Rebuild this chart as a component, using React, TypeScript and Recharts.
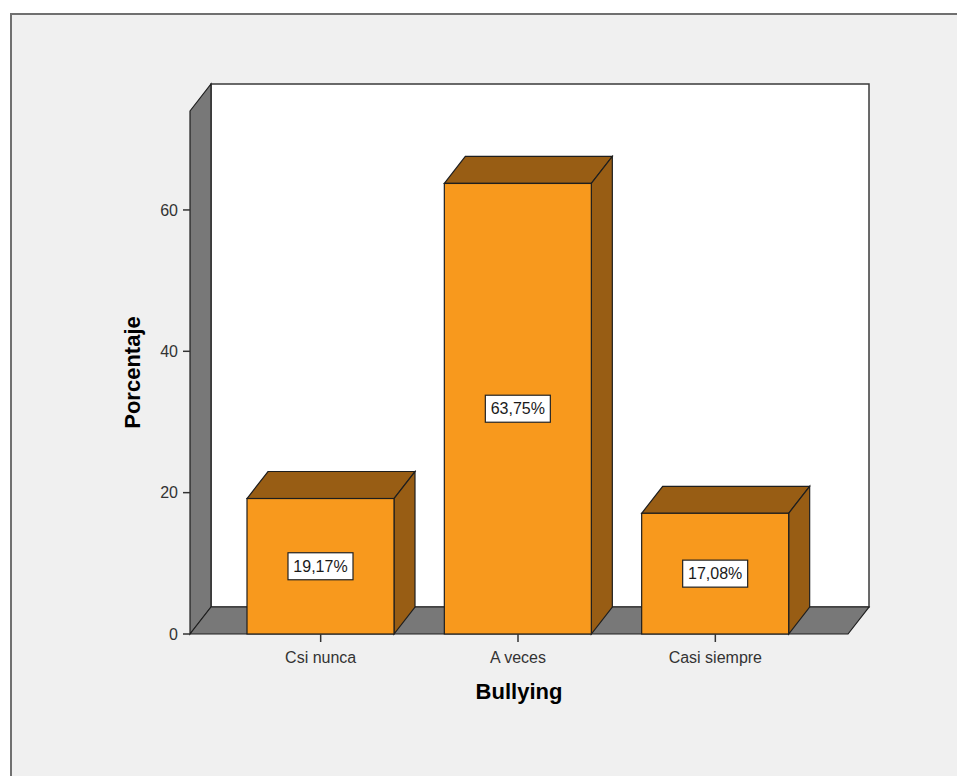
import React from 'react';
import { BarChart, Bar, XAxis, YAxis, ReferenceArea, LabelList } from 'recharts';

const categories = ['Csi nunca', 'A veces', 'Casi siempre'];
const percentages = [19.17, 63.75, 17.08];
const yTicks = [0, 20, 40, 60];
const yMax = 74;

const data = categories.map((name, i) => ({ name, value: percentages[i] }));

const DX = 21;
const DY = 27;
const FONT = '"Liberation Sans", Arial, Helvetica, sans-serif';
const FRONT = '#F8991D';
const DARK = '#985D14';
const WALL = '#787878';
const EDGE = '#1e1e1e';

const Walls = (props: any) => {
  const { x, y, width: w, height: h } = props;
  const b = y + h;
  return (
    <g>
      <rect x={x + DX} y={y - DY} width={w} height={h} fill="#ffffff" stroke="#3a3a3a" strokeWidth={1.5} />
      <polygon
        points={`${x},${y} ${x + DX},${y - DY} ${x + DX},${b - DY} ${x},${b}`}
        fill={WALL}
        stroke={EDGE}
        strokeWidth={1.2}
      />
      <polygon
        points={`${x},${b} ${x + DX},${b - DY} ${x + w + DX},${b - DY} ${x + w},${b}`}
        fill={WALL}
        stroke={EDGE}
        strokeWidth={1.2}
      />
    </g>
  );
};

const Box3D = (props: any) => {
  const { x, y, width: w, height: h } = props;
  if (w == null || h == null) return null;
  return (
    <g>
      <polygon
        points={`${x},${y} ${x + DX},${y - DY} ${x + w + DX},${y - DY} ${x + w},${y}`}
        fill={DARK}
        stroke={EDGE}
        strokeWidth={1.2}
      />
      <polygon
        points={`${x + w},${y} ${x + w + DX},${y - DY} ${x + w + DX},${y + h - DY} ${x + w},${y + h}`}
        fill={DARK}
        stroke={EDGE}
        strokeWidth={1.2}
      />
      <rect x={x} y={y} width={w} height={h} fill={FRONT} stroke={EDGE} strokeWidth={1.2} />
    </g>
  );
};

const ValueBox = (props: any) => {
  const { x, y, width, height, value } = props;
  const cx = x + width / 2;
  const cy = y + height / 2;
  const text = `${Number(value).toFixed(2).replace('.', ',')}%`;
  const bw = 65;
  const bh = 27;
  return (
    <g>
      <rect x={cx - bw / 2} y={cy - bh / 2} width={bw} height={bh} fill="#ffffff" stroke="#222" strokeWidth={1.2} />
      <text x={cx} y={cy} textAnchor="middle" dominantBaseline="central" fontFamily={FONT} fontSize={16} fill="#1a1a1a">
        {text}
      </text>
    </g>
  );
};

const YTitle = (props: any) => {
  const vb = props.viewBox || {};
  const cx = vb.x + 2;
  const cy = vb.y + vb.height / 2;
  return (
    <text
      x={cx}
      y={cy}
      transform={`rotate(-90, ${cx}, ${cy})`}
      textAnchor="middle"
      dominantBaseline="central"
      fontFamily={FONT}
      fontSize={22}
      fontWeight="bold"
      fill="#000"
    >
      Porcentaje
    </text>
  );
};

const XTitle = (props: any) => {
  const vb = props.viewBox || {};
  const cx = vb.x + vb.width / 2;
  const cy = vb.y + 65;
  return (
    <text x={cx} y={cy} textAnchor="middle" fontFamily={FONT} fontSize={22} fontWeight="bold" fill="#000">
      Bullying
    </text>
  );
};

export default function App() {
  return (
    <div style={{ position: 'absolute', left: 0, top: 0, width: 957, height: 776, overflow: 'hidden', background: '#ffffff' }}>
      <div
        style={{
          position: 'absolute',
          left: 10,
          top: 13,
          width: 1000,
          height: 800,
          background: '#f0f0f0',
          borderLeft: '2px solid #707070',
          borderTop: '2px solid #707070',
        }}
      />
      <div style={{ position: 'absolute', left: 0, top: 0 }}>
        <BarChart
          width={957}
          height={776}
          data={data}
          margin={{ top: 111, right: 109, bottom: 112, left: 130 }}
          barSize={147}
        >
          <XAxis xAxisId="frame" type="number" domain={[0, 1]} allowDataOverflow hide />
          <XAxis
            dataKey="name"
            padding={{ left: 32, right: 34 }}
            height={30}
            axisLine={false}
            tickSize={8}
            tickMargin={10}
            tickLine={{ stroke: '#333', strokeWidth: 1.5 }}
            tick={{ fontFamily: FONT, fontSize: 16, fill: '#333' }}
            label={XTitle}
          />
          <YAxis
            type="number"
            domain={[0, yMax]}
            ticks={yTicks}
            width={60}
            axisLine={false}
            tickSize={7}
            tickMargin={5}
            tickLine={{ stroke: '#333', strokeWidth: 1.5 }}
            tick={{ fontFamily: FONT, fontSize: 16, fill: '#333' }}
            label={YTitle}
          />
          <ReferenceArea xAxisId="frame" y1={0} y2={yMax} shape={Walls} ifOverflow="visible" />
          <Bar dataKey="value" shape={Box3D} isAnimationActive={false}>
            <LabelList dataKey="value" content={ValueBox} />
          </Bar>
        </BarChart>
      </div>
    </div>
  );
}
